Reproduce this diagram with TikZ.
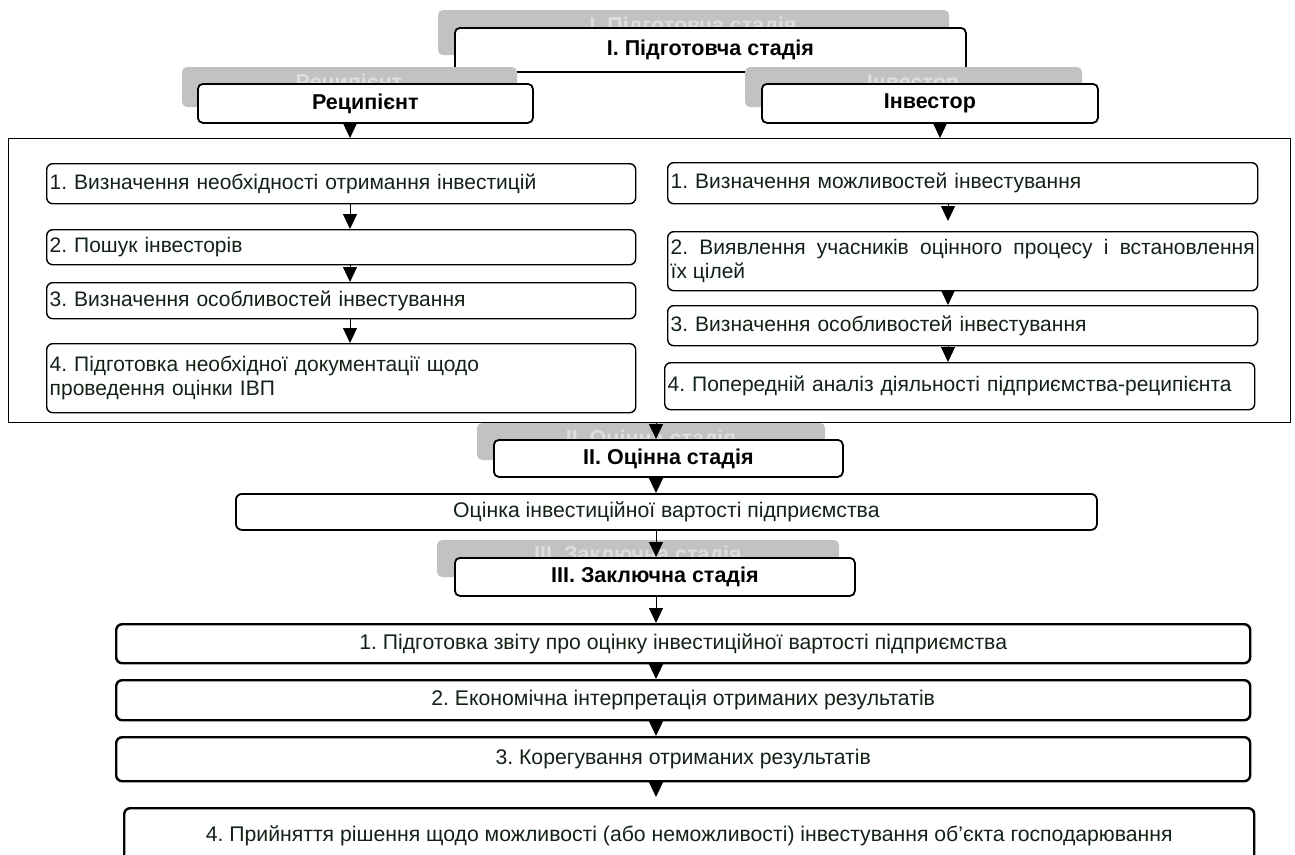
\documentclass[tikz,border=0pt]{standalone}
\usepackage{fontspec}
\setmainfont{Liberation Sans}
\usetikzlibrary{arrows.meta}

\newlength{\du}
\setlength{\du}{1pt}

\definecolor{dialinecolor}{rgb}{0.08,0.13,0.09}
\definecolor{shadefill}{rgb}{0.76,0.76,0.76}
\definecolor{shadetxt}{rgb}{0.87,0.87,0.87}

\tikzset{
  stagebox/.style={draw=black, line width=1.8\du, rounded corners=5\du, fill=white,
    font=\fontsize{21.5}{24}\selectfont\bfseries, text=black, inner sep=0pt, anchor=north west},
  shadelabel/.style={font=\fontsize{21.5}{24}\selectfont\bfseries, text=shadetxt, inner sep=0pt},
  stepbox/.style={draw=black, line width=1.4\du, rounded corners=6\du, fill=white,
    font=\fontsize{21}{23.5}\selectfont, text=dialinecolor, inner xsep=3\du, inner ysep=0pt,
    align=left, anchor=north west},
  endbox/.style={draw=black, line width=2.4\du, rounded corners=6\du, fill=white,
    font=\fontsize{21.2}{24}\selectfont, text=dialinecolor, inner sep=0pt, anchor=north west},
  arr/.style={-{Triangle[width=14pt,length=15pt]}, line width=1pt},
}

\begin{document}
\frenchspacing
\begin{tikzpicture}
\pgftransformxscale{1.000000}
\pgftransformyscale{-1.000000}
\useasboundingbox (0\du,0\du) rectangle (1295\du,854\du);
\clip (0\du,0\du) rectangle (1295\du,854\du);

% columns of the arrows
\coordinate (lx) at (350\du,0\du);
\coordinate (rx) at (948\du,0\du);
\coordinate (ix) at (940\du,0\du);
\coordinate (cx) at (656\du,0\du);

% I. stage with its shade
\fill[shadefill, rounded corners=5\du] (438\du,10\du) rectangle (949\du,55\du);
\node[shadelabel] (shI) at (693\du,27\du){I. Підготовча стадія};
\node[stagebox, minimum width=511\du, minimum height=44\du] (stI) at (454\du,27\du){I. Підготовча стадія};

% recipient and investor
\fill[shadefill, rounded corners=5\du] (182\du,67\du) rectangle (517\du,107\du);
\node[shadelabel] (shrec) at (349\du,84\du){Реципієнт};
\node[stagebox, minimum width=335\du, minimum height=39\du] (rec) at (197\du,83\du){Реципієнт};
\fill[shadefill, rounded corners=5\du] (745\du,67\du) rectangle (1082\du,107\du);
\node[shadelabel] (shinv) at (913\du,84\du){Інвестор};
\node[stagebox, minimum width=336\du, minimum height=39\du] (inv) at (761\du,83\du){Інвестор};

% frame of the preparatory stage
\node[draw=black, line width=1.4\du, inner sep=0pt, anchor=north west,
  minimum width=1282\du, minimum height=284\du] (frame) at (8\du,138\du){};

% recipient column
\node[stepbox, minimum width=589\du, minimum height=40\du, text width=583\du] (l1) at (46\du,163\du){1. Визначення необхідності отримання інвестицій};
\node[stepbox, minimum width=589\du, minimum height=35\du, text width=583\du] (l2) at (46\du,229\du){2. Пошук інвесторів};
\node[stepbox, minimum width=589\du, minimum height=36\du, text width=583\du] (l3) at (46\du,282\du){3. Визначення особливостей інвестування};
\node[stepbox, minimum width=589\du, minimum height=69\du, text width=583\du] (l4) at (46\du,343\du){4. Підготовка необхідної документації щодо\\проведення оцінки ІВП};

% investor column
\node[stepbox, minimum width=590\du, minimum height=41\du, text width=584\du] (r1) at (667\du,162\du){1. Визначення можливостей інвестування};
\node[stepbox, minimum width=590\du, minimum height=59\du, text width=584\du, align=justify] (r2) at (667\du,231\du){2. Виявлення учасників оцінного процесу і встановлення\linebreak їх цілей};
\node[stepbox, minimum width=590\du, minimum height=40\du, text width=584\du] (r3) at (667\du,305\du){3. Визначення особливостей інвестування};
\node[stepbox, minimum width=590\du, minimum height=47\du, text width=584\du] (r4) at (664\du,362\du){4. Попередній аналіз діяльності підприємства-реципієнта};

% II. stage
\fill[shadefill, rounded corners=5\du] (477\du,423\du) rectangle (825\du,460\du);
\node[shadelabel] (shII) at (651\du,440\du){II. Оцінна стадія};
\node[stagebox, minimum width=349\du, minimum height=37\du] (stII) at (493\du,439\du){II. Оцінна стадія};
\node[endbox, line width=1.8\du, minimum width=861\du, minimum height=36\du] (val) at (235\du,493\du){Оцінка інвестиційної вартості підприємства};

% III. stage
\fill[shadefill, rounded corners=5\du] (437\du,540\du) rectangle (839\du,577\du);
\node[shadelabel] (shIII) at (638\du,556\du){III. Заключна стадія};
\node[stagebox, minimum width=400\du, minimum height=38\du] (stIII) at (454\du,557\du){III. Заключна стадія};

\node[endbox, minimum width=1134\du, minimum height=39\du] (b1) at (115\du,623\du){1. Підготовка звіту про оцінку інвестиційної вартості підприємства};
\node[endbox, minimum width=1134\du, minimum height=40\du] (b2) at (115\du,679\du){2. Економічна інтерпретація отриманих результатів};
\node[endbox, minimum width=1134\du, minimum height=44\du] (b3) at (115\du,736\du){3. Корегування отриманих результатів};
\node[endbox, minimum width=1130\du, minimum height=56\du] (b4) at (123\du,807\du){4. Прийняття рішення щодо можливості (або неможливості) інвестування об’єкта господарювання};

% arrows
\draw[arr] (rec.south -| lx) -- (frame.north -| lx);
\draw[arr] (inv.south -| ix) -- (frame.north -| ix);
\draw[arr] (l1.south -| lx) -- (l2.north -| lx);
\draw[arr] (l2.south -| lx) -- (l3.north -| lx);
\draw[arr] (l3.south -| lx) -- (l4.north -| lx);
\draw[arr, shorten >=10pt] (r1.south -| rx) -- (r2.north -| rx);
\draw[arr] (r2.south -| rx) -- (r3.north -| rx);
\draw[arr] (r3.south -| rx) -- (r4.north -| rx);
\draw[arr] (frame.south -| cx) -- (stII.north -| cx);
\draw[arr] (stII.south -| cx) -- (val.north -| cx);
\draw[arr] (val.south -| cx) -- (stIII.north -| cx);
\draw[arr] (stIII.south -| cx) -- (b1.north -| cx);
\draw[arr] (b1.south -| cx) -- (b2.north -| cx);
\draw[arr] (b2.south -| cx) -- (b3.north -| cx);
\draw[arr, shorten >=10pt] (b3.south -| cx) -- (b4.north -| cx);
\end{tikzpicture}
\end{document}
